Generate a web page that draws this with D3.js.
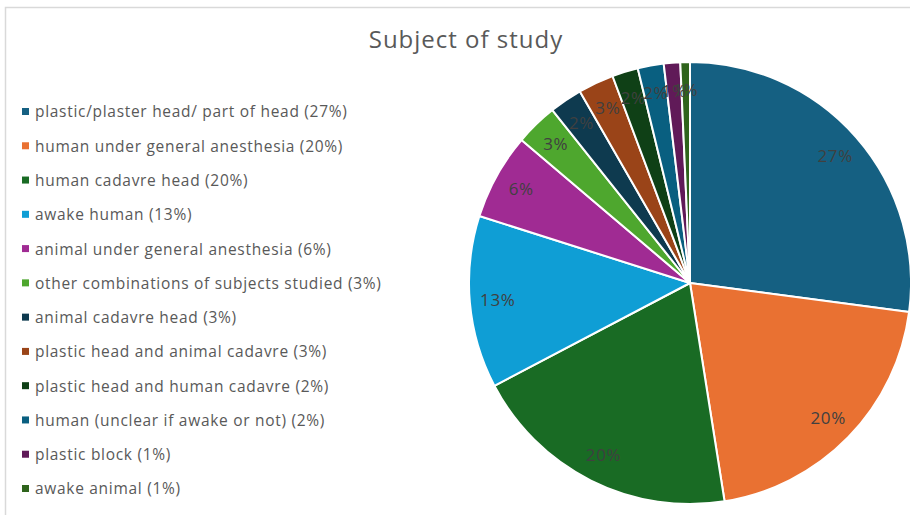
<!DOCTYPE html>
<html>
<head>
<meta charset="utf-8">
<script src="https://cdn.jsdelivr.net/npm/d3@7"></script>
<style>
  html, body { margin: 0; padding: 0; background: #fff; }
  svg { display: block; }
</style>
</head>
<body>
<svg id="chart" width="910" height="515"></svg>
<script>
// Share of studies by subject type (percent)
const categories = [
  "plastic/plaster head/ part of head",
  "human under general anesthesia",
  "human cadavre head",
  "awake human",
  "animal under general anesthesia",
  "other combinations of subjects studied",
  "animal cadavre head",
  "plastic head and animal cadavre",
  "plastic head and human cadavre",
  "human (unclear if awake or not)",
  "plastic block",
  "awake animal"
];
const values = [27.1, 20.4, 19.8, 12.6, 6.3, 3.1, 2.4, 2.6, 1.9, 1.9, 1.2, 0.7];
// Legend entries carry their own percentage text
const legendLabels = [
  "plastic/plaster head/ part of head (27%)",
  "human under general anesthesia (20%)",
  "human cadavre head (20%)",
  "awake human (13%)",
  "animal under general anesthesia (6%)",
  "other combinations of subjects studied (3%)",
  "animal cadavre head (3%)",
  "plastic head and animal cadavre (3%)",
  "plastic head and human cadavre (2%)",
  "human (unclear if awake or not) (2%)",
  "plastic block (1%)",
  "awake animal (1%)"
];
const colors = [
  "#156082", "#E97132", "#196B24", "#0F9ED5", "#A02B93", "#4EA72E",
  "#0E3A4F", "#9A4418", "#0F4016", "#095F80", "#601A58", "#2F641C"
];

const svg = d3.select("#chart");
const font = "'Open Sans', 'Liberation Sans', sans-serif";

// chart area frame
svg.append("rect")
  .attr("x", 5.5).attr("y", 7.5)
  .attr("width", 920).attr("height", 520)
  .attr("fill", "none")
  .attr("stroke", "#d9d9d9")
  .attr("stroke-width", 1.5);

// title
svg.append("text")
  .attr("x", 466).attr("y", 48)
  .attr("text-anchor", "middle")
  .attr("font-family", font)
  .attr("font-size", 24)
  .attr("letter-spacing", 1)
  .attr("fill", "#595959")
  .text("Subject of study");

// pie
const cx = 690, cy = 283, R = 221;
const total = d3.sum(values);
const pie = d3.pie().sort(null).value(d => d)(values);
const arc = d3.arc().innerRadius(0).outerRadius(R);
const labelArc = d3.arc().innerRadius(193).outerRadius(193);

const g = svg.append("g").attr("transform", `translate(${cx},${cy})`);
g.selectAll("path.slice")
  .data(pie)
  .join("path")
  .attr("class", "slice")
  .attr("d", arc)
  .attr("fill", (d, i) => colors[i])
  .attr("stroke", "#fff")
  .attr("stroke-width", 2)
  .attr("stroke-linejoin", "round");

g.selectAll("text.lbl")
  .data(pie)
  .join("text")
  .attr("class", "lbl")
  .attr("transform", d => `translate(${labelArc.centroid(d)})`)
  .attr("text-anchor", "middle")
  .attr("dy", "0.35em")
  .attr("font-family", font)
  .attr("font-size", 17)
  .attr("letter-spacing", 0.6)
  .attr("fill", "#404040")
  .text(d => Math.round(d.data / total * 100) + "%");

// legend
const legend = svg.append("g");
const rowY = d3.scalePoint().domain(d3.range(categories.length)).range([112, 489]);
const items = legend.selectAll("g.item")
  .data(categories)
  .join("g")
  .attr("class", "item")
  .attr("transform", (d, i) => `translate(0,${rowY(i)})`);
items.append("rect")
  .attr("x", 22).attr("y", -4)
  .attr("width", 7).attr("height", 7)
  .attr("fill", (d, i) => colors[i]);
items.append("text")
  .attr("x", 35).attr("y", 0)
  .attr("dy", "0.35em")
  .attr("font-family", font)
  .attr("font-size", 15.5)
  .attr("letter-spacing", 0.7)
  .attr("fill", "#595959")
  .text((d, i) => legendLabels[i]);
</script>
</body>
</html>
